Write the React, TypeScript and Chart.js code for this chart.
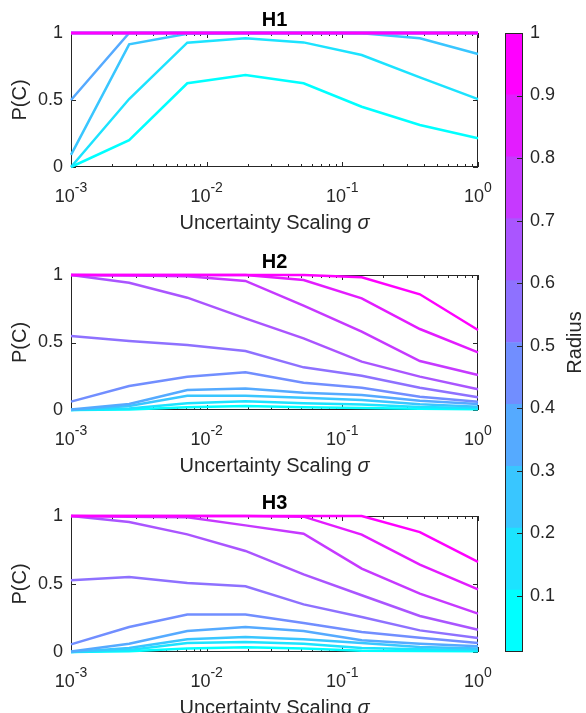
import React, { useEffect, useRef } from 'react';
import { Chart, registerables } from 'chart.js';

Chart.register(...registerables);

// ---------- data ----------
const SIGMA = [0.001, 0.0026827, 0.0071969, 0.019307, 0.0517947, 0.13895, 0.372759, 1];
const RADII = [0.1, 0.2, 0.3, 0.4, 0.5, 0.6, 0.7, 0.8, 0.9, 1.0];

const H1_R01 = [0, 0.2, 0.625, 0.687, 0.625, 0.45, 0.313, 0.214];
const H1_R02 = [0, 0.507, 0.928, 0.96, 0.93, 0.836, 0.669, 0.507];
const H1_R03 = [0.09, 0.915, 0.995, 1, 1, 0.998, 0.96, 0.843];
const H1_R04 = [0.5, 1, 1, 1, 1, 1, 1, 1];
const H1_R05 = [1, 1, 1, 1, 1, 1, 1, 1];
const H1_R06 = [1, 1, 1, 1, 1, 1, 1, 1];
const H1_R07 = [1, 1, 1, 1, 1, 1, 1, 1];
const H1_R08 = [1, 1, 1, 1, 1, 1, 1, 1];
const H1_R09 = [1, 1, 1, 1, 1, 1, 1, 1];
const H1_R10 = [1, 1, 1, 1, 1, 1, 1, 1];

const H2_R01 = [0, 0.004, 0.02, 0.03, 0.02, 0.015, 0.01, 0.005];
const H2_R02 = [0, 0.012, 0.05, 0.065, 0.05, 0.04, 0.022, 0.015];
const H2_R03 = [0, 0.03, 0.106, 0.106, 0.091, 0.074, 0.042, 0.025];
const H2_R04 = [0.003, 0.044, 0.148, 0.16, 0.128, 0.111, 0.069, 0.044];
const H2_R05 = [0.062, 0.178, 0.247, 0.279, 0.202, 0.165, 0.099, 0.062];
const H2_R06 = [0.548, 0.511, 0.481, 0.437, 0.316, 0.254, 0.165, 0.094];
const H2_R07 = [1, 0.943, 0.832, 0.679, 0.531, 0.358, 0.247, 0.153];
const H2_R08 = [1, 0.996, 0.99, 0.956, 0.773, 0.58, 0.363, 0.259];
const H2_R09 = [1, 1, 1, 1, 0.963, 0.827, 0.6, 0.427];
const H2_R10 = [1, 1, 1, 1, 1, 0.983, 0.857, 0.593];

const H3_R01 = [0, 0.005, 0.025, 0.035, 0.025, 0.01, 0.008, 0.005];
const H3_R02 = [0, 0.015, 0.066, 0.074, 0.06, 0.03, 0.02, 0.015];
const H3_R03 = [0, 0.03, 0.093, 0.11, 0.093, 0.066, 0.037, 0.025];
const H3_R04 = [0.003, 0.061, 0.154, 0.184, 0.154, 0.086, 0.061, 0.042];
const H3_R05 = [0.056, 0.184, 0.275, 0.275, 0.213, 0.147, 0.105, 0.066];
const H3_R06 = [0.527, 0.551, 0.507, 0.483, 0.35, 0.257, 0.159, 0.103];
const H3_R07 = [1, 0.956, 0.865, 0.743, 0.571, 0.417, 0.265, 0.164];
const H3_R08 = [1, 0.995, 0.99, 0.931, 0.87, 0.613, 0.429, 0.282];
const H3_R09 = [1, 1, 1, 1, 0.995, 0.863, 0.642, 0.461];
const H3_R10 = [1, 1, 1, 1, 1, 1, 0.882, 0.662];

const H1_SERIES = [H1_R01, H1_R02, H1_R03, H1_R04, H1_R05, H1_R06, H1_R07, H1_R08, H1_R09, H1_R10];
const H2_SERIES = [H2_R01, H2_R02, H2_R03, H2_R04, H2_R05, H2_R06, H2_R07, H2_R08, H2_R09, H2_R10];
const H3_SERIES = [H3_R01, H3_R02, H3_R03, H3_R04, H3_R05, H3_R06, H3_R07, H3_R08, H3_R09, H3_R10];

const X_MAJOR = [0.001, 0.01, 0.1, 1];
const X_EXP_LABELS = ['-3', '-2', '-1', '0'];
const X_MINOR_FACTORS = [2, 3, 4, 5, 6, 7, 8, 9];
const Y_TICKS = [0, 0.5, 1];
const CB_TICKS = [0.1, 0.2, 0.3, 0.4, 0.5, 0.6, 0.7, 0.8, 0.9, 1];
const CB_EDGES = [0.01, 0.109, 0.208, 0.307, 0.406, 0.505, 0.604, 0.703, 0.802, 0.901, 1];

// cool(10) colormap
const COLORS = [
  'rgb(0,255,255)', 'rgb(28,227,255)', 'rgb(57,198,255)', 'rgb(85,170,255)', 'rgb(113,142,255)',
  'rgb(142,113,255)', 'rgb(170,85,255)', 'rgb(198,57,255)', 'rgb(227,28,255)', 'rgb(255,0,255)',
];

// ---------- layout / style ----------
const W = 586;
const H = 713;
const FONT = '"Liberation Sans", Arial, Helvetica, sans-serif';
const AXIS = '#262626';
const PLOT_LEFT = 71;
const PLOT_RIGHT = 478;

const PANELS = [
  { title: 'H1', series: H1_SERIES, top: 33, bottom: 167 },
  { title: 'H2', series: H2_SERIES, top: 275, bottom: 410 },
  { title: 'H3', series: H3_SERIES, top: 516, bottom: 652 },
];

function panelPlugin(title: string) {
  return {
    id: 'panelDecor',
    beforeDatasetsDraw(chart: any) {
      const { ctx, chartArea: a, scales } = chart;
      const xs = scales.x;
      const ys = scales.y;
      ctx.save();
      ctx.strokeStyle = AXIS;
      ctx.lineWidth = 1;
      ctx.strokeRect(a.left + 0.5, a.top + 0.5, a.right - a.left - 1, a.bottom - a.top - 1);
      ctx.beginPath();
      const drawX = (v: number, len: number) => {
        const px = Math.round(xs.getPixelForValue(v)) + 0.5;
        ctx.moveTo(px, a.bottom);
        ctx.lineTo(px, a.bottom - len);
        ctx.moveTo(px, a.top);
        ctx.lineTo(px, a.top + len);
      };
      X_MAJOR.forEach((v) => drawX(v, 5));
      X_MAJOR.slice(0, -1).forEach((d) => X_MINOR_FACTORS.forEach((f) => drawX(d * f, 3)));
      Y_TICKS.forEach((v) => {
        const py = Math.round(ys.getPixelForValue(v)) + 0.5;
        ctx.moveTo(a.left, py);
        ctx.lineTo(a.left + 5, py);
        ctx.moveTo(a.right, py);
        ctx.lineTo(a.right - 5, py);
      });
      ctx.stroke();
      ctx.restore();
    },
    afterDraw(chart: any) {
      const { ctx, chartArea: a, scales } = chart;
      const xs = scales.x;
      ctx.save();
      ctx.fillStyle = AXIS;
      ctx.textBaseline = 'alphabetic';
      ctx.textAlign = 'left';
      // x tick labels 10^k
      X_MAJOR.forEach((v, i) => {
        const px = xs.getPixelForValue(v);
        ctx.font = `18px ${FONT}`;
        const w1 = ctx.measureText('10').width;
        ctx.font = `14px ${FONT}`;
        const w2 = ctx.measureText(X_EXP_LABELS[i]).width;
        const start = px - (w1 + w2) / 2;
        ctx.font = `18px ${FONT}`;
        ctx.fillText('10', start, a.bottom + 35);
        ctx.font = `14px ${FONT}`;
        ctx.fillText(X_EXP_LABELS[i], start + w1, a.bottom + 25);
      });
      // x axis title
      const cx = (a.left + a.right) / 2;
      const t1 = 'Uncertainty Scaling ';
      const t2 = 'σ';
      ctx.font = `20px ${FONT}`;
      const tw1 = ctx.measureText(t1).width;
      ctx.font = `italic 20px ${FONT}`;
      const tw2 = ctx.measureText(t2).width;
      const sx = cx - (tw1 + tw2) / 2;
      ctx.font = `20px ${FONT}`;
      ctx.fillText(t1, sx, a.bottom + 62);
      ctx.font = `italic 20px ${FONT}`;
      ctx.fillText(t2, sx + tw1, a.bottom + 62);
      // y axis title
      ctx.save();
      ctx.translate(20, (a.top + a.bottom) / 2);
      ctx.rotate(-Math.PI / 2);
      ctx.textAlign = 'center';
      ctx.textBaseline = 'middle';
      ctx.font = `20px ${FONT}`;
      ctx.fillText('P(C)', 0, 0);
      ctx.restore();
      // panel title
      ctx.fillStyle = '#000';
      ctx.textAlign = 'center';
      ctx.textBaseline = 'alphabetic';
      ctx.font = `bold 20px ${FONT}`;
      ctx.fillText(title, cx, a.top - 7);
      ctx.restore();
    },
  };
}

function buildPanel(canvas: HTMLCanvasElement, p: (typeof PANELS)[number]) {
  return new Chart(canvas, {
    type: 'line',
    data: {
      datasets: p.series.map((vals, i) => ({
        label: `Radius ${RADII[i]}`,
        data: SIGMA.map((x, j) => ({ x, y: vals[j] })),
        borderColor: COLORS[i],
        backgroundColor: COLORS[i],
        borderWidth: 2.5,
        pointRadius: 0,
        tension: 0,
        fill: false,
        clip: false,
        order: RADII.length - i,
      })),
    },
    options: {
      responsive: false,
      animation: false,
      events: [],
      layout: { padding: { left: 0, right: W - PLOT_RIGHT, top: p.top, bottom: 0 } },
      plugins: { legend: { display: false }, tooltip: { enabled: false }, title: { display: false } },
      scales: {
        x: {
          type: 'logarithmic',
          min: 0.001,
          max: 1,
          ticks: { display: false },
          grid: { display: false, drawTicks: false },
          border: { display: false },
          afterFit: (s: any) => {
            s.height = H - p.bottom;
          },
        },
        y: {
          type: 'linear',
          min: 0,
          max: 1,
          afterBuildTicks: (s: any) => {
            s.ticks = Y_TICKS.map((v) => ({ value: v }));
          },
          ticks: {
            font: { family: FONT, size: 18 },
            color: AXIS,
            padding: 8,
            callback: (v: any) => String(v),
          },
          grid: { display: false, drawTicks: false },
          border: { display: false },
          afterFit: (s: any) => {
            s.width = PLOT_LEFT;
          },
        },
      },
    } as any,
    plugins: [panelPlugin(p.title)],
  });
}

const colorbarPlugin = {
  id: 'cbDecor',
  afterDraw(chart: any) {
    const { ctx, chartArea: a, scales } = chart;
    const ys = scales.y;
    ctx.save();
    ctx.strokeStyle = AXIS;
    ctx.lineWidth = 1;
    ctx.strokeRect(a.left + 0.5, a.top + 0.5, a.right - a.left - 1, a.bottom - a.top - 1);
    ctx.beginPath();
    CB_TICKS.forEach((v) => {
      const py = Math.round(ys.getPixelForValue(v)) + 0.5;
      ctx.moveTo(a.right, py);
      ctx.lineTo(a.right - 6, py);
    });
    ctx.stroke();
    ctx.translate(575, (a.top + a.bottom) / 2);
    ctx.rotate(-Math.PI / 2);
    ctx.textAlign = 'center';
    ctx.textBaseline = 'middle';
    ctx.fillStyle = AXIS;
    ctx.font = `20px ${FONT}`;
    ctx.fillText('Radius', 0, 0);
    ctx.restore();
  },
};

function buildColorbar(canvas: HTMLCanvasElement) {
  return new Chart(canvas, {
    type: 'bar',
    data: {
      labels: ['Radius'],
      datasets: COLORS.map((c, i) => ({
        label: `${RADII[i]}`,
        data: [[CB_EDGES[i], CB_EDGES[i + 1]]],
        backgroundColor: c,
        borderWidth: 0,
        barPercentage: 1,
        categoryPercentage: 1,
        grouped: false,
      })),
    } as any,
    options: {
      responsive: false,
      animation: false,
      events: [],
      layout: { padding: { left: 505, right: 0, top: 33, bottom: H - 652 } },
      plugins: { legend: { display: false }, tooltip: { enabled: false } },
      scales: {
        x: { display: false },
        y: {
          position: 'right',
          min: 0.01,
          max: 1,
          afterBuildTicks: (s: any) => {
            s.ticks = CB_TICKS.map((v) => ({ value: v }));
          },
          ticks: {
            font: { family: FONT, size: 18 },
            color: AXIS,
            padding: 7,
            callback: (v: any) => String(v),
          },
          grid: { display: false, drawTicks: false },
          border: { display: false },
          afterFit: (s: any) => {
            s.width = W - 523;
          },
        },
      },
    } as any,
    plugins: [colorbarPlugin],
  });
}

function ChartCanvas({ build }: { build: (c: HTMLCanvasElement) => Chart }) {
  const ref = useRef<HTMLCanvasElement>(null);
  useEffect(() => {
    const chart = build(ref.current as HTMLCanvasElement);
    return () => chart.destroy();
  }, []);
  return (
    <canvas
      ref={ref}
      width={W}
      height={H}
      style={{ position: 'absolute', left: 0, top: 0, width: W, height: H }}
    />
  );
}

export default function App() {
  return (
    <div
      style={{
        position: 'absolute',
        left: 0,
        top: 0,
        width: W,
        height: H,
        background: '#fff',
        overflow: 'hidden',
      }}
    >
      {PANELS.map((p) => (
        <ChartCanvas key={p.title} build={(c) => buildPanel(c, p)} />
      ))}
      <ChartCanvas build={buildColorbar} />
    </div>
  );
}
